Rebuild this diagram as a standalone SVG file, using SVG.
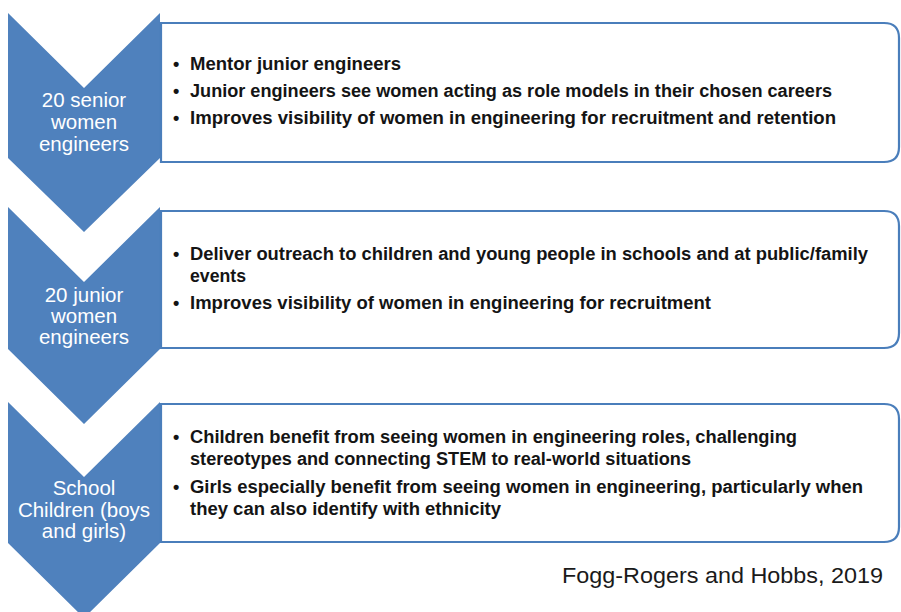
<svg xmlns="http://www.w3.org/2000/svg" width="901" height="612" viewBox="0 0 901 612">
<style>
.chev{fill:#4f81bd;}
.box{fill:#ffffff;stroke:#4a7ebb;stroke-width:2.2;}
.lbl{font-family:"Liberation Sans",Arial,sans-serif;font-size:20.5px;fill:#ffffff;text-anchor:middle;}
.bt{font-family:"Liberation Sans",Arial,sans-serif;font-weight:bold;font-size:18px;fill:#141414;}
.cite{font-family:"Liberation Sans",Arial,sans-serif;font-size:22.5px;fill:#1a1a1a;}
</style>
<rect width="901" height="612" fill="#ffffff"/>
<g id="node-senior">
<path class="chev" d="M8,13 L84,88 L160,13 L160,158 L84,232 L8,158 Z"/>
<path class="box" d="M161,23 H884 Q899,23 899,38 V147 Q899,162 884,162 H161 Z"/>
<text class="lbl" x="84" y="107">20 senior</text>
<text class="lbl" x="84" y="129">women</text>
<text class="lbl" x="84" y="151">engineers</text>
<text class="bt" x="173" y="70">•</text><text class="bt" x="190" y="70" textLength="211" lengthAdjust="spacingAndGlyphs">Mentor junior engineers</text>
<text class="bt" x="173" y="97">•</text><text class="bt" x="190" y="97" textLength="642" lengthAdjust="spacingAndGlyphs">Junior engineers see women acting as role models in their chosen careers</text>
<text class="bt" x="173" y="124">•</text><text class="bt" x="190" y="124" textLength="646" lengthAdjust="spacingAndGlyphs">Improves visibility of women in engineering for recruitment and retention</text>
</g>
<g id="node-junior">
<path class="chev" d="M8,207 L84,282 L160,207 L160,349 L84,424 L8,349 Z"/>
<path class="box" d="M161,211 H884 Q899,211 899,226 V333 Q899,348 884,348 H161 Z"/>
<text class="lbl" x="84" y="302">20 junior</text>
<text class="lbl" x="84" y="323">women</text>
<text class="lbl" x="84" y="344">engineers</text>
<text class="bt" x="173" y="260">•</text><text class="bt" x="190" y="260" textLength="678" lengthAdjust="spacingAndGlyphs">Deliver outreach to children and young people in schools and at public/family</text>
<text class="bt" x="190" y="282" textLength="56" lengthAdjust="spacingAndGlyphs">events</text>
<text class="bt" x="173" y="309">•</text><text class="bt" x="190" y="309" textLength="521" lengthAdjust="spacingAndGlyphs">Improves visibility of women in engineering for recruitment</text>
</g>
<g id="node-children">
<path class="chev" d="M8,402 L84,477 L160,402 L160,543 L84,618 L8,543 Z"/>
<path class="box" d="M161,404 H884 Q899,404 899,419 V527 Q899,542 884,542 H161 Z"/>
<text class="lbl" x="84" y="495">School</text>
<text class="lbl" x="84" y="517">Children (boys</text>
<text class="lbl" x="84" y="538">and girls)</text>
<text class="bt" x="173" y="443">•</text><text class="bt" x="190" y="443" textLength="607" lengthAdjust="spacingAndGlyphs">Children benefit from seeing women in engineering roles, challenging</text>
<text class="bt" x="190" y="465" textLength="501" lengthAdjust="spacingAndGlyphs">stereotypes and connecting STEM to real-world situations</text>
<text class="bt" x="173" y="493">•</text><text class="bt" x="190" y="493" textLength="673" lengthAdjust="spacingAndGlyphs">Girls especially benefit from seeing women in engineering, particularly  when</text>
<text class="bt" x="190" y="515" textLength="311" lengthAdjust="spacingAndGlyphs">they can also identify with ethnicity</text>
</g>
<g id="citation">
<text class="cite" x="562" y="583" textLength="321" lengthAdjust="spacingAndGlyphs">Fogg-Rogers and Hobbs, 2019</text>
</g>
</svg>
